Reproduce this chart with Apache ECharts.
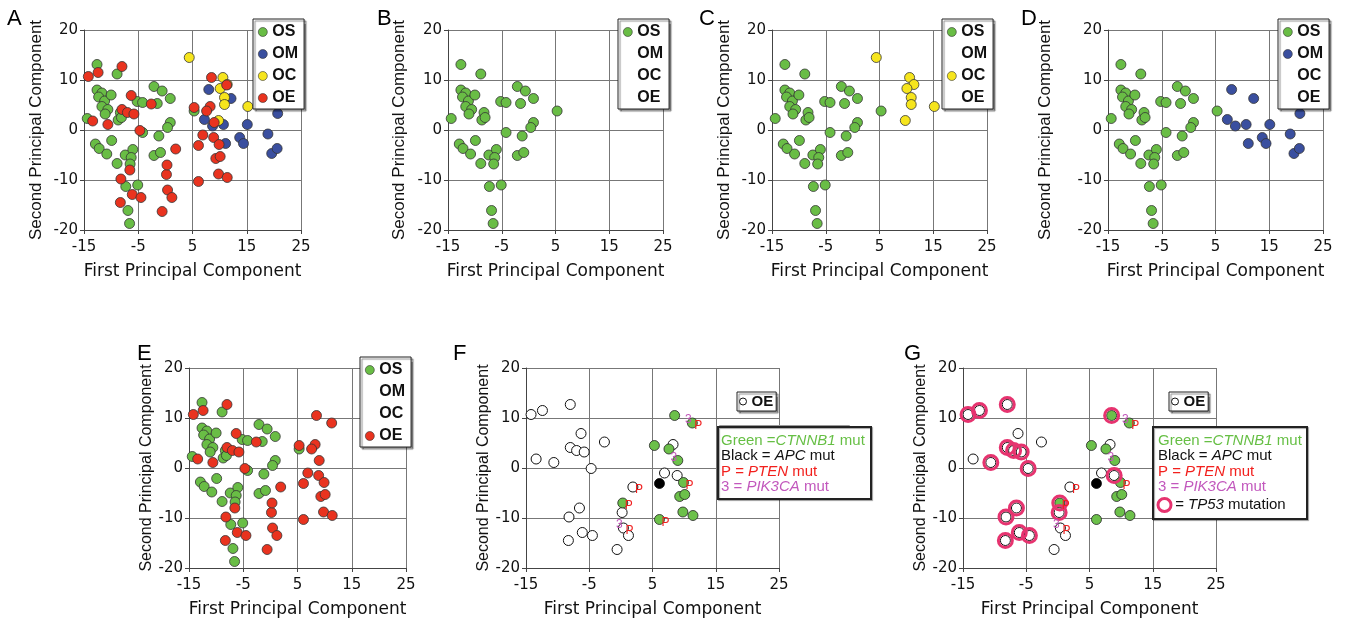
<!DOCTYPE html>
<html>
<head>
<meta charset="utf-8">
<title>PCA panels</title>
<script src="https://cdn.jsdelivr.net/npm/echarts@6/dist/echarts.min.js"></script>
<style>
html, body { margin: 0; padding: 0; background: #fff; }
#chart { width: 1346px; height: 635px; }
</style>
</head>
<body>
<div id="chart"></div>
<script>
// axis ticks
var xTicks = [-15, -5, 5, 15, 25];
var yTicks = [-20, -10, 0, 10, 20];

// [first PC, second PC] per sample
var os = [
    [-12.6, 13.1], [-8.9, 11.2], [-12.6, 8.0], [-11.7, 7.4], [-12.3, 6.6], [-11.2, 5.8],
    [-10.0, 7.0], [-11.7, 4.7], [-10.6, 4.1], [-11.1, 3.2], [-14.4, 2.3], [-8.3, 3.5],
    [-8.7, 2.0], [-8.1, 2.5], [-12.9, -2.8], [-12.2, -3.7], [-10.8, -4.8], [-9.9, -2.1],
    [-8.9, -6.7], [-7.4, -5.0], [-6.0, -3.9], [-6.3, -5.5], [-6.5, -6.8], [-7.3, -11.3],
    [-5.1, -11.0], [-6.9, -16.1], [-6.6, -18.7], [-5.2, 5.7], [-4.2, 5.5], [-4.2, -0.5],
    [-2.1, 8.7], [-0.6, 7.8], [-1.5, 5.3], [0.9, 6.3], [0.9, 1.5], [0.4, 0.5],
    [-1.2, -1.2], [-2.1, -5.1], [-0.9, -4.5], [5.3, 3.8]
];
var om = [
    [8.0, 8.1], [12.1, 6.3], [7.2, 2.1], [8.7, 0.8], [10.7, 1.1], [11.1, -2.7],
    [13.7, -1.5], [14.4, -2.7], [15.1, 1.1], [18.9, -0.8], [19.6, -4.7], [20.6, -3.7],
    [20.7, 3.3]
];
var oc = [
    [4.4, 14.5], [10.6, 10.5], [11.4, 9.1], [10.1, 8.3], [10.9, 6.5], [10.9, 5.1],
    [9.8, 1.9], [15.2, 4.7]
];
var oe = [
    [-14.2, 10.7], [-12.4, 11.5], [-8.0, 12.7], [-13.4, 1.8], [-10.6, 1.1], [-6.3, 6.9],
    [-8.0, 4.1], [-7.0, 3.5], [-5.8, 3.2], [-2.6, 5.2], [-4.7, -0.1], [-6.55, -8.0],
    [-8.2, -9.8], [-6.1, -12.9], [-8.3, -14.5], [-4.5, -13.5], [-0.6, -16.3], [0.2, -8.9],
    [0.4, -12.0], [1.2, -13.5], [1.9, -3.8], [8.25, 4.7], [6.9, -1.0], [8.9, -1.5],
    [8.5, 10.5], [11.3, 9.0], [5.3, 4.5], [7.6, 3.8], [9.0, 1.5], [0.3, -7.0],
    [6.1, -10.3], [9.9, -2.9], [9.3, -5.7], [10.1, -5.3], [9.8, -8.8], [11.4, -9.5],
    [6.1, -3.1]
];

// mutations, as indices into oe
var ctnnb1Idx = [24, 25, 26, 27, 28, 29, 30, 31, 32, 33, 34, 35];
var apcIdx = [36];
var ptenIdxF = [18, 20, 25, 29, 30, 31];
var ptenIdxG = [18, 20, 25, 29, 31];
var pik3caIdx = [18, 25, 28];
var tp53Idx = [0, 1, 2, 4, 6, 7, 8, 10, 11, 12, 13, 14, 15, 17, 23, 24, 29];

var groupNames = ['OS', 'OM', 'OC', 'OE'];
var groupData = { OS: os, OM: om, OC: oc, OE: oe };
var groupColors = { OS: '#69bd45', OM: '#3a4f9f', OC: '#f6e51d', OE: '#e9331f' };

var FONT = 'Liberation Sans';
var WIDE = 'DejaVu Sans';

var panels = [
    { letter: 'A', box: [84, 30, 217, 200], letterAt: [15, 19], yGap: 39, yName: 17, legendAt: [253, 19], groups: ['OS', 'OM', 'OC', 'OE'] },
    { letter: 'B', box: [448, 30, 215, 200], letterAt: [385, 19], yGap: 40, yName: 17, legendAt: [618, 19], groups: ['OS'] },
    { letter: 'C', box: [772, 30, 215, 200], letterAt: [707, 19], yGap: 39, yName: 17, legendAt: [942, 19], groups: ['OS', 'OC'] },
    { letter: 'D', box: [1108, 30, 215, 200], letterAt: [1029, 19], yGap: 54, yName: 17, legendAt: [1278, 19], groups: ['OS', 'OM'] },
    { letter: 'E', box: [189, 368, 217, 200], letterAt: [145, 354], yGap: 33, yName: 16, legendAt: [360, 357], groups: ['OS', 'OE'] },
    { letter: 'F', box: [526, 368, 253, 200], letterAt: [461, 354], yGap: 34, yName: 16, legendAt: [737, 392], mut: ptenIdxF, rings: false },
    { letter: 'G', box: [963, 368, 253, 200], letterAt: [912, 354], yGap: 34, yName: 16, legendAt: [1169, 392], mut: ptenIdxG, rings: true }
];

function pick(idx) {
    return idx.map(function(i) { return oe[i]; });
}

// little letter placed next to a point, through the axis scales
function tagSeries(gi, data, text, color, dx, dy) {
    return {
        type: 'custom', xAxisIndex: gi, yAxisIndex: gi, z: 5, data: data,
        renderItem: function(params, api) {
            var c = api.coord([api.value(0), api.value(1)]);
            return {
                type: 'text', x: c[0] + dx, y: c[1] + dy,
                style: {
                    text: text, fill: color, font: '12px ' + FONT,
                    align: 'center', verticalAlign: 'middle',
                    textAlign: 'center', textVerticalAlign: 'middle'
                }
            };
        }
    };
}

var grids = [], xAxes = [], yAxes = [], series = [], legends = [], titles = [], graphics = [];

panels.forEach(function(p, gi) {
    grids.push({ left: p.box[0], top: p.box[1], width: p.box[2], height: p.box[3] });

    var axisCommon = {
        gridIndex: gi,
        type: 'value',
        nameLocation: 'middle',
        axisLine: { onZero: false, lineStyle: { color: '#444', width: 1 } },
        axisTick: { show: true, length: 4, lineStyle: { color: '#444' } },
        splitLine: { show: true, lineStyle: { color: '#777', width: 1 } }
    };
    xAxes.push(Object.assign({}, axisCommon, {
        min: xTicks[0], max: xTicks[xTicks.length - 1], interval: xTicks[1] - xTicks[0],
        name: 'First Principal Component', nameGap: 33,
        nameTextStyle: { fontFamily: WIDE, fontSize: 17, color: '#111' },
        axisLabel: { fontFamily: WIDE, fontSize: 15, color: '#111', margin: 10 }
    }));
    yAxes.push(Object.assign({}, axisCommon, {
        min: yTicks[0], max: yTicks[yTicks.length - 1], interval: yTicks[1] - yTicks[0],
        name: 'Second Principal Component', nameGap: p.yGap,
        nameTextStyle: { fontFamily: FONT, fontSize: p.yName, color: '#111' },
        axisLabel: { fontFamily: WIDE, fontSize: 15, color: '#111', margin: 6 }
    }));

    graphics.push({
        type: 'text', left: p.letterAt[0] - 8, top: p.letterAt[1] - 11,
        style: { text: p.letter, font: '22px ' + FONT, fill: '#000' }
    });

    var legendBase = {
        left: p.legendAt[0], top: p.legendAt[1], orient: 'vertical',
        selectedMode: false, icon: 'circle',
        borderColor: '#222', borderWidth: 1, backgroundColor: '#fff',
        shadowColor: 'rgba(0,0,0,0.45)', shadowOffsetX: 2, shadowOffsetY: 2, shadowBlur: 1
    };

    if (p.groups) {
        p.groups.forEach(function(g) {
            series.push({
                name: g, type: 'scatter', xAxisIndex: gi, yAxisIndex: gi,
                symbolSize: 10, data: groupData[g],
                itemStyle: { color: groupColors[g], borderColor: '#333', borderWidth: 0.8, opacity: 1 }
            });
        });
        legends.push(Object.assign({}, legendBase, {
            itemWidth: 9, itemHeight: 9, itemGap: 6, padding: [5, 6, 3, 5],
            textStyle: { fontFamily: FONT, fontSize: 16, fontWeight: 'bold', color: '#111' },
            data: groupNames.map(function(g) {
                var on = p.groups.indexOf(g) >= 0;
                return {
                    name: g,
                    itemStyle: on
                        ? { color: groupColors[g], borderColor: '#333', borderWidth: 0.6 }
                        : { color: 'rgba(0,0,0,0)', borderColor: 'rgba(0,0,0,0)', borderWidth: 0 }
                };
            })
        }));
    } else {
        var hollow = oe.filter(function(d, i) {
            return ctnnb1Idx.indexOf(i) < 0 && apcIdx.indexOf(i) < 0;
        });
        series.push({
            name: 'OE', type: 'scatter', xAxisIndex: gi, yAxisIndex: gi, symbolSize: 10, data: hollow,
            itemStyle: { color: '#fff', borderColor: '#111', borderWidth: 1, opacity: 1 }
        });
        series.push({
            name: 'CTNNB1', type: 'scatter', xAxisIndex: gi, yAxisIndex: gi, symbolSize: 10, data: pick(ctnnb1Idx),
            itemStyle: { color: '#6cc04a', borderColor: '#222', borderWidth: 0.8, opacity: 1 }
        });
        series.push({
            name: 'APC', type: 'scatter', xAxisIndex: gi, yAxisIndex: gi, symbolSize: 10, data: pick(apcIdx),
            itemStyle: { color: '#000', borderColor: '#000', borderWidth: 0.8, opacity: 1 }
        });
        if (p.rings) {
            series.push({
                name: 'TP53', type: 'scatter', xAxisIndex: gi, yAxisIndex: gi, symbolSize: 14, data: pick(tp53Idx),
                itemStyle: { color: 'rgba(0,0,0,0)', borderColor: '#e6336f', borderWidth: 3, opacity: 1 }
            });
        }
        series.push(tagSeries(gi, pick(p.mut), 'P', '#f01f1f', 6, 3));
        series.push(tagSeries(gi, pick(pik3caIdx), '3', '#c054b8', -4, -3));
        legends.push(Object.assign({}, legendBase, {
            itemWidth: 7, itemHeight: 7, padding: [2, 3, 2, 2],
            textStyle: { fontFamily: FONT, fontSize: 15, fontWeight: 'bold', color: '#111' },
            data: [{ name: 'OE', itemStyle: { color: '#fff', borderColor: '#111', borderWidth: 1 } }]
        }));
    }
});

var rich = {
    g: { color: '#66bf44', fontFamily: FONT, fontSize: 15, lineHeight: 15.5 },
    gi: { color: '#66bf44', fontFamily: FONT, fontSize: 15, lineHeight: 15.5, fontStyle: 'italic' },
    k: { color: '#111', fontFamily: FONT, fontSize: 15, lineHeight: 15.5 },
    ki: { color: '#111', fontFamily: FONT, fontSize: 15, lineHeight: 15.5, fontStyle: 'italic' },
    r: { color: '#f2201d', fontFamily: FONT, fontSize: 15, lineHeight: 15.5 },
    ri: { color: '#f2201d', fontFamily: FONT, fontSize: 15, lineHeight: 15.5, fontStyle: 'italic' },
    p: { color: '#c258bd', fontFamily: FONT, fontSize: 15, lineHeight: 15.5 },
    pi: { color: '#c258bd', fontFamily: FONT, fontSize: 15, lineHeight: 15.5, fontStyle: 'italic' },
    ring: { width: 13, height: 13, borderRadius: 10, borderWidth: 3, borderColor: '#e6336f', lineHeight: 20 },
    kr: { color: '#111', fontFamily: FONT, fontSize: 15, lineHeight: 20 },
    kri: { color: '#111', fontFamily: FONT, fontSize: 15, lineHeight: 20, fontStyle: 'italic' }
};
var mutLines = [
    '{g|Green =}{gi|CTNNB1}{g| mut}',
    '{k|Black = }{ki|APC}{k| mut}',
    '{r|P = }{ri|PTEN}{r| mut}',
    '{p|3 = }{pi|PIK3CA}{p| mut}'
];
var boxStyle = {
    borderColor: '#222', borderWidth: 2, backgroundColor: '#fff',
    shadowColor: 'rgba(0,0,0,0.35)', shadowOffsetX: 1, shadowOffsetY: 1, shadowBlur: 1,
    textStyle: { fontFamily: FONT, fontSize: 15, fontWeight: 'normal', lineHeight: 15.5, rich: rich }
};
titles.push(Object.assign({}, boxStyle, {
    left: 718, top: 427, padding: [6, 6, 4, 3], text: mutLines.join('\n')
}));
titles.push(Object.assign({}, boxStyle, {
    left: 1154, top: 427, padding: [6, 5, 4, 4],
    text: mutLines.concat(['{ring|}{kr| = }{kri|TP53}{kr| mutation}']).join('\n')
}));

// leftover frame behind the F key
graphics.push({
    type: 'rect', left: 717, top: 423, z: 1,
    shape: { width: 130, height: 57 },
    style: { fill: 'none', stroke: '#999', lineWidth: 1 }
});

var chart = echarts.init(document.getElementById('chart'));
chart.setOption({
    animation: false,
    backgroundColor: '#fff',
    title: titles,
    grid: grids,
    xAxis: xAxes,
    yAxis: yAxes,
    legend: legends,
    graphic: graphics,
    series: series
});
</script>
</body>
</html>
